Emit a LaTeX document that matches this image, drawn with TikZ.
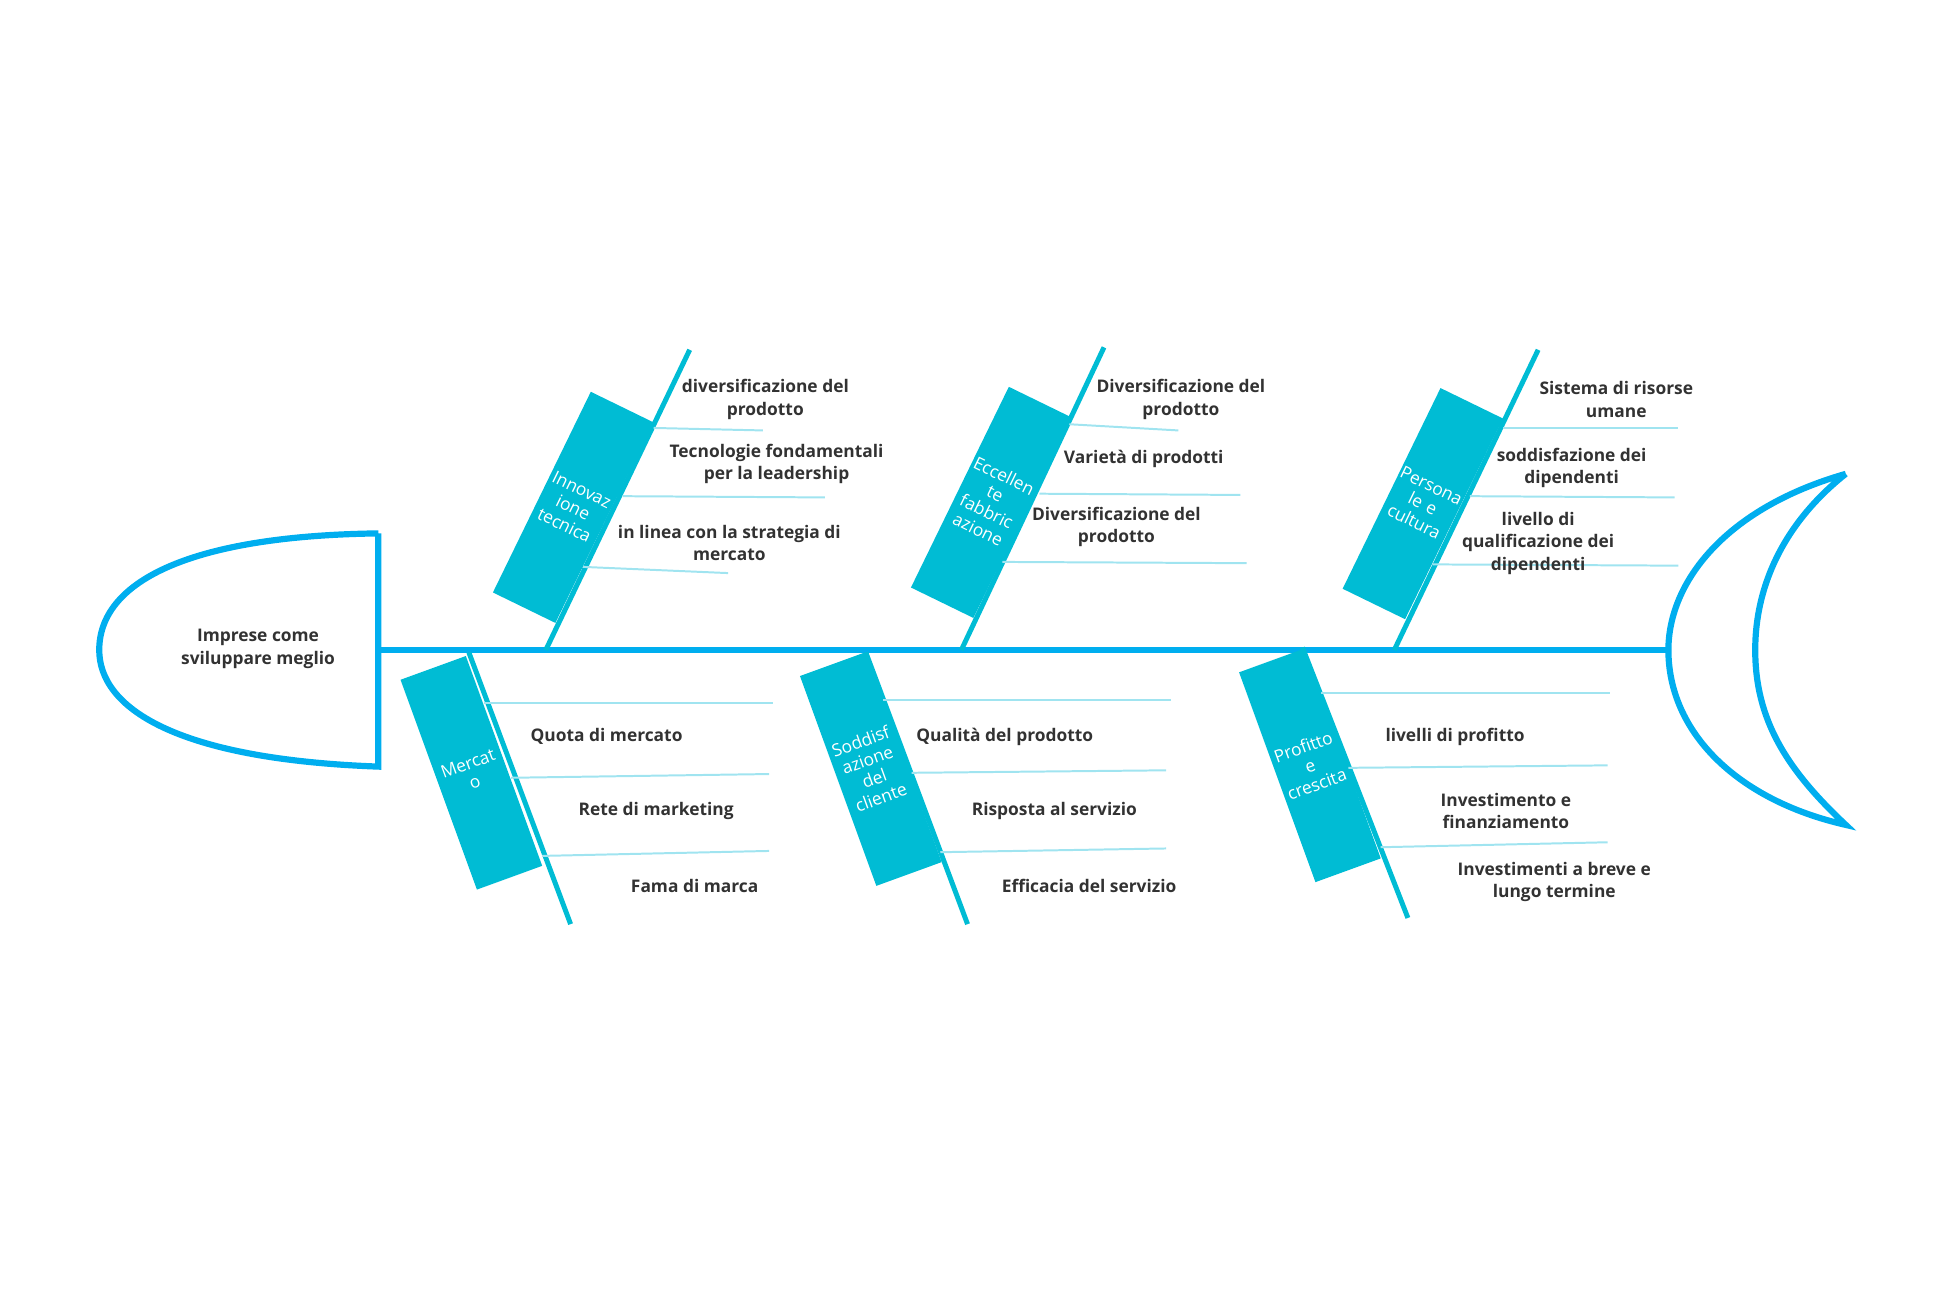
\documentclass[tikz,border=0pt]{standalone}
\usepackage{fontspec}
\setmainfont{Open Sans}
\definecolor{spine}{RGB}{0,174,239}
\definecolor{boxc}{RGB}{0,188,212}
\definecolor{rib}{RGB}{160,228,240}
\definecolor{txt}{RGB}{50,50,50}
\tikzset{
  cause/.style={fill=boxc,text=white,minimum width=56pt,minimum height=180pt,
    inner sep=1pt,text width=54pt,align=center,font=\fontsize{14}{16}\selectfont},
  item/.style={text=txt,align=center,font=\bfseries\fontsize{14}{18}\selectfont,inner sep=0pt},
  rib/.style={draw=rib,line width=1.6pt},
  bone/.style={draw=boxc,line width=4pt},
}
\begin{document}
\begin{tikzpicture}[x=1pt,y=-1pt]
\useasboundingbox (0,0) rectangle (1568,1050);
% head and tail
\draw[spine,line width=5pt] (305,430) -- (305,618) .. controls (140,612) and (80,570) .. (80,524)
  .. controls (80,470) and (150,432) .. (305,430);
\node[item] (head) at (208,523) {Imprese come\\sviluppare meglio};
\draw[spine,line width=5pt] (1488,382) .. controls (1390,410) and (1345,470) .. (1345,524)
  .. controls (1345,590) and (1400,645) .. (1488,665)
  .. controls (1440,620) and (1415,580) .. (1415,524)
  .. controls (1415,470) and (1440,420) .. (1488,382);
% spine
\coordinate (s0) at (305,524);
\coordinate (s1) at (1345,524);
\draw[spine,line width=5pt] (s0) -- (s1);
% upper bones
\foreach \n/\a/\b/\c/\d in {1/440/524/556/282, 2/775/524/890/280, 3/1124/524/1240/282}
  \draw[bone] (\a,\b) coordinate (u\n) -- (\c,\d) coordinate (ut\n);
% lower bones
\foreach \n/\a/\b/\c/\d in {1/378/526/460/745, 2/698/526/780/745, 3/1050/522/1135/740}
  \draw[bone] (\a,\b) coordinate (l\n) -- (\c,\d) coordinate (lt\n);
% ribs
\foreach \a/\b/\c/\d in {527/345/615/347, 502/400/665/401, 470/457/587/462,
  862/342/950/347, 838/398/1000/399, 808/453/1005/454,
  1212/345/1353/345, 1185/400/1350/401, 1155/455/1353/456,
  390/567/623/567, 412/627/620/624, 437/690/620/686,
  712/564/944/564, 735/623/940/621, 758/687/940/684,
  1065/559/1298/559, 1087/619/1296/617, 1113/683/1296/679}
  \draw[rib] (\a,\b) -- (\c,\d);
% cause boxes
\node[cause,rotate=-26] (c1) at (462,409) {Innovaz ione tecnica};
\node[cause,rotate=-26] (c2) at (799,405) {Eccellen te fabbric azione};
\node[cause,rotate=-26] (c3) at (1147,406) {Persona le e cultura};
\node[cause,rotate=20] (c4) at (380,623) {Mercat o};
\node[cause,rotate=20] (c5) at (702,620) {Soddisf azione del cliente};
\node[cause,rotate=20] (c6) at (1056,617) {Profitto e crescita};
% labels
\node[item] (t11) at (617,322) {diversificazione del\\prodotto};
\node[item] (t12) at (626,374) {Tecnologie fondamentali\\per la leadership};
\node[item] (t13) at (588,438) {in linea con la strategia di\\mercato};
\node[item] (t21) at (952,322) {Diversificazione del\\prodotto};
\node[item] (t22) at (922,370) {Varietà di prodotti};
\node[item] (t23) at (900,425) {Diversificazione del\\prodotto};
\node[item] (t31) at (1303,322) {Sistema di risorse\\umane};
\node[item] (t32) at (1267,377) {soddisfazione dei\\dipendenti};
\node[item] (t33) at (1240,438) {livello di\\qualificazione dei\\dipendenti};
\node[item] (t41) at (489,594) {Quota di mercato};
\node[item] (t42) at (529,654) {Rete di marketing};
\node[item] (t43) at (560,714) {Fama di marca};
\node[item] (t51) at (810,594) {Qualità del prodotto};
\node[item] (t52) at (850,654) {Risposta al servizio};
\node[item] (t53) at (878,714) {Efficacia del servizio};
\node[item] (t61) at (1173,594) {livelli di profitto};
\node[item] (t62) at (1214,654) {Investimento e\\finanziamento};
\node[item] (t63) at (1253,711) {Investimenti a breve e\\lungo termine};
\end{tikzpicture}
\end{document}
